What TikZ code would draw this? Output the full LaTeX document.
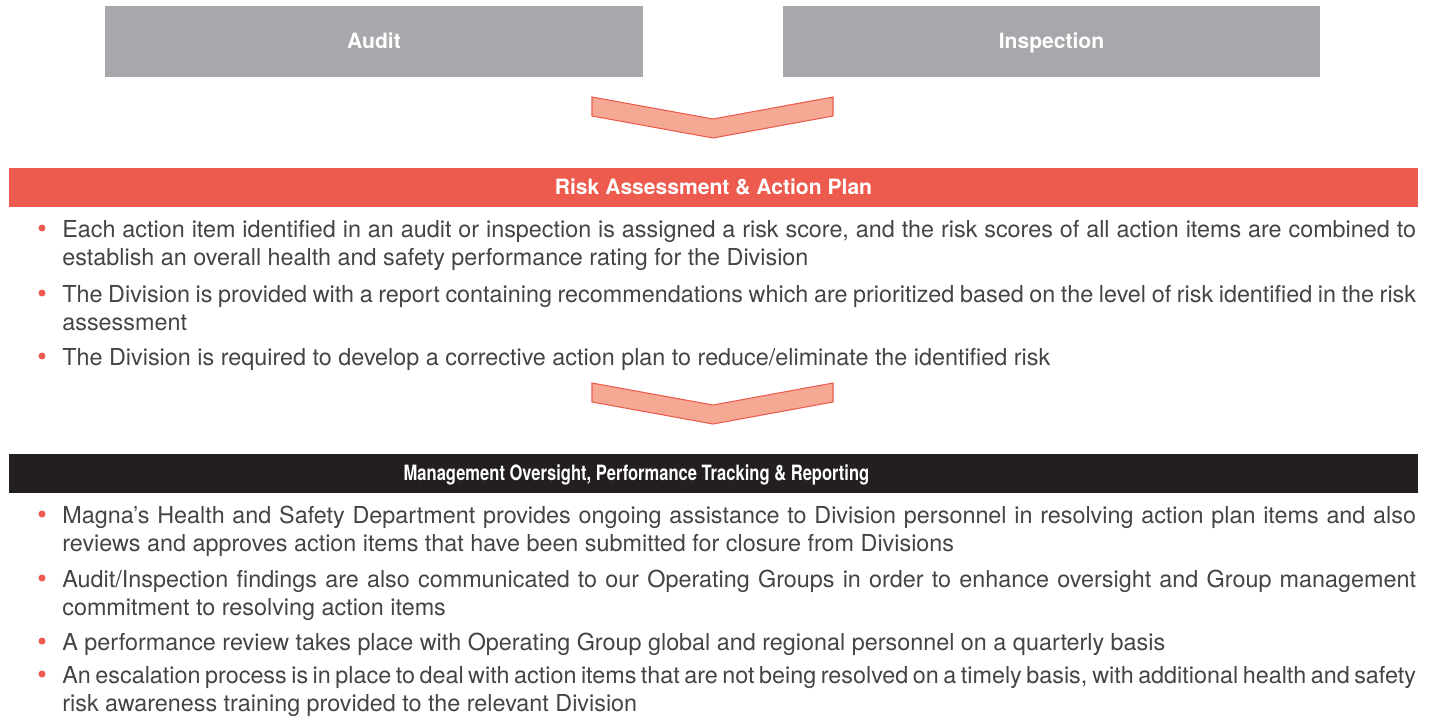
\documentclass[tikz,border=0pt]{standalone}
\usepackage{fontspec}
\setmainfont{TeX Gyre Heros}
\usetikzlibrary{calc}

\definecolor{boxGray}{HTML}{A7A8AB}
\definecolor{riskRed}{HTML}{EC5B4E}
\definecolor{barBlack}{HTML}{231F20}
\definecolor{chevFill}{HTML}{F5A994}
\definecolor{bodyGray}{HTML}{444444}

\tikzset{
	topBox/.style={fill=boxGray, text=white, font=\bfseries\fontsize{12}{14}\selectfont, minimum width=10.76cm, minimum height=1.42cm, inner sep=0pt, text height=9.5pt, text depth=1.5pt},
	barBox/.style={minimum width=28.18cm, minimum height=0.78cm, inner sep=0pt},
	barTitle/.style={text=white, font=\bfseries\fontsize{12}{14}\selectfont, inner sep=0pt, text height=9.5pt, text depth=1.5pt},
	bodyText/.style={text=bodyGray, font=\fontsize{13.3}{15.94}\selectfont, text width=27.08cm, align=justify, inner sep=0pt, anchor=base west},
	dotNode/.style={circle, fill=riskRed, minimum size=0.14cm, inner sep=0pt},
	chevron/.style={fill=chevFill, draw=riskRed, line width=0.6pt}
}

\begin{document}
\begin{tikzpicture}[x=0.02cm,y=-0.02cm]
\useasboundingbox (0,0) rectangle (1434,721);

\newcommand\drawChevron[1]{\draw[chevron] (592,#1) -- (713,#1+22) -- (833,#1) -- (833,#1+19) -- (713,#1+41) -- (592,#1+19) -- cycle;}
\newcommand\drawItem[3]{\node[dotNode] (#1dot) at (42,#2-9) {}; \node[bodyText] (#1) at (62,#2) {#3};}

% sources
\node[topBox] (audit) at (374,41.5) {Audit};
\node[topBox] (inspection) at (1051.5,41.5) {Inspection};

\drawChevron{97}

% risk assessment
\node[barBox, fill=riskRed] (riskBar) at (713.5,187.5) {};
\node[barTitle] (riskTitle) at (riskBar.center) {Risk Assessment \& Action Plan};

\drawItem{risk1}{237}{Each action item identified in an audit or inspection is assigned a risk score, and the risk scores of all action items are combined to\linebreak establish an overall health and safety performance rating for the Division}
\drawItem{risk2}{302}{The Division is provided with a report containing recommendations which are prioritized based on the level of risk identified in the risk\linebreak assessment}
\drawItem{risk3}{365}{The Division is required to develop a corrective action plan to reduce/eliminate the identified risk}

\drawChevron{383}

% oversight
\node[barBox, fill=barBlack] (oversightBar) at (713.5,473.5) {};
\node[barTitle] (oversightTitle) at ($(oversightBar.center)+(-77,0)$) {\scalebox{0.785}[1]{Management Oversight, Performance Tracking \& Reporting}};

\drawItem{over1}{523}{Magna’s Health and Safety Department provides ongoing assistance to Division personnel in resolving action plan items and also\linebreak reviews and approves action items that have been submitted for closure from Divisions}
\drawItem{over2}{587}{Audit/Inspection findings are also communicated to our Operating Groups in order to enhance oversight and Group management\linebreak commitment to resolving action items}
\drawItem{over3}{650}{A performance review takes place with Operating Group global and regional personnel on a quarterly basis}
\drawItem{over4}{683}{An escalation process is in place to deal with action items that are not being resolved on a timely basis, with additional health and safety\linebreak risk awareness training provided to the relevant Division}
\end{tikzpicture}
\end{document}
